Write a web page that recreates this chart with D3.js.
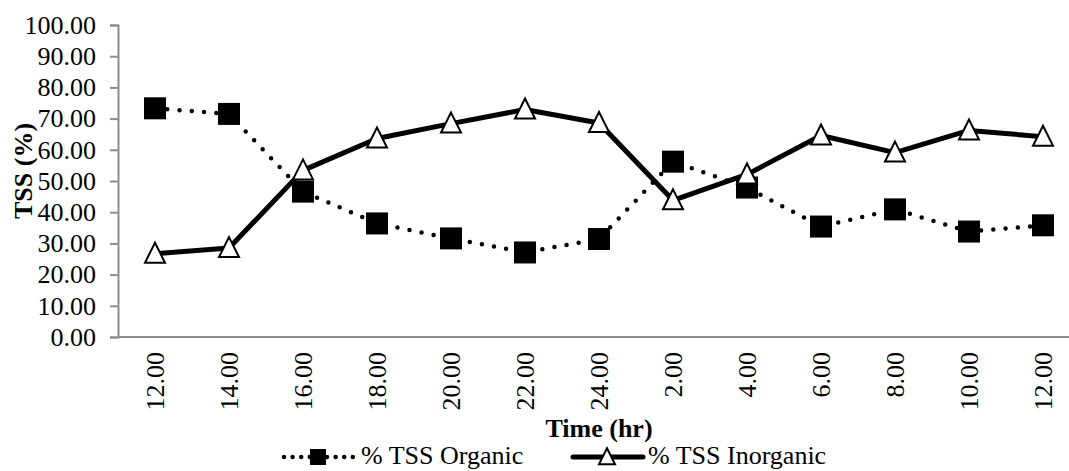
<!DOCTYPE html>
<html>
<head>
<meta charset="utf-8">
<script src="https://cdn.jsdelivr.net/npm/d3@7/dist/d3.min.js"></script>
<style>
  html, body { margin: 0; padding: 0; background: #fff; }
  svg { display: block; }
  text { font-family: "Liberation Serif", "Times New Roman", serif; fill: #000; }
</style>
</head>
<body>
<svg id="chart" width="1069" height="471"></svg>
<script>
// Sampling times (hr) along the x axis
const timeLabels = ["12.00", "14.00", "16.00", "18.00", "20.00", "22.00", "24.00",
                    "2.00", "4.00", "6.00", "8.00", "10.00", "12.00"];
// Share of total suspended solids (%)
const tssOrganic   = [73.3, 71.5, 46.6, 36.4, 31.6, 27.1, 31.4, 56.2, 47.9, 35.4, 40.9, 33.8, 35.8];
const tssInorganic = [26.7, 28.5, 53.4, 63.6, 68.4, 72.9, 68.6, 43.8, 52.1, 64.6, 59.1, 66.2, 64.2];
const yTicks = [0, 10, 20, 30, 40, 50, 60, 70, 80, 90, 100];
const seriesNames = ["% TSS Organic", "% TSS Inorganic"];

const svg = d3.select("#chart");
const plotLeft = 118, plotRight = 1080, plotTop = 25, plotBottom = 337;
const axisColor = "#8c8c8c";
const fontSize = 26;

const x = d3.scaleBand().domain(d3.range(timeLabels.length)).range([plotLeft, plotRight]);
const y = d3.scaleLinear().domain([0, 100]).range([plotBottom, plotTop]);
const cx = i => x(i) + x.bandwidth() / 2;

// y axis
const yAxis = svg.append("g").attr("transform", `translate(${plotLeft},0)`)
  .call(d3.axisLeft(y).tickValues(yTicks).tickFormat(d => d.toFixed(2)).tickSize(8).tickPadding(14));
yAxis.select(".domain").attr("stroke", axisColor).attr("stroke-width", 2);
yAxis.selectAll(".tick line").attr("stroke", axisColor).attr("stroke-width", 2);
yAxis.selectAll(".tick text").attr("font-size", fontSize)
  .attr("font-family", "'Liberation Serif', 'Times New Roman', serif").attr("fill", "#000");

// x axis baseline
svg.append("line").attr("x1", plotLeft).attr("x2", plotRight)
  .attr("y1", y(0)).attr("y2", y(0))
  .attr("stroke", axisColor).attr("stroke-width", 2);

// rotated time labels
svg.append("g").selectAll("text").data(timeLabels).join("text")
  .attr("transform", (d, i) => `translate(${cx(i)},352) rotate(-90)`)
  .attr("text-anchor", "end").attr("dy", "0.35em")
  .attr("font-size", fontSize).text(d => d);

// axis titles
svg.append("text").attr("x", (plotLeft + plotRight) / 2).attr("y", 437)
  .attr("text-anchor", "middle").attr("font-size", fontSize).attr("font-weight", "bold")
  .text("Time (hr)");
svg.append("text").attr("transform", `translate(32,${(plotTop + plotBottom) / 2 - 10}) rotate(-90)`)
  .attr("text-anchor", "middle").attr("font-size", fontSize).attr("font-weight", "bold")
  .text("TSS (%)");

const line = d3.line().x((d, i) => cx(i)).y(d => y(d));
const triPath = s => `M0,${-s * 0.55}L${s * 0.5},${s * 0.45}L${-s * 0.5},${s * 0.45}Z`;

// organic series: dotted line with filled squares
svg.append("path").datum(tssOrganic).attr("d", line)
  .attr("fill", "none").attr("stroke", "#000").attr("stroke-width", 4.5)
  .attr("stroke-linecap", "round").attr("stroke-dasharray", "0 12.3");
svg.append("g").selectAll("rect").data(tssOrganic).join("rect")
  .attr("x", (d, i) => cx(i) - 11).attr("y", d => y(d) - 11)
  .attr("width", 22).attr("height", 22).attr("fill", "#000");

// inorganic series: solid line with open triangles
svg.append("path").datum(tssInorganic).attr("d", line)
  .attr("fill", "none").attr("stroke", "#000").attr("stroke-width", 5)
  .attr("stroke-linejoin", "round");
svg.append("g").selectAll("path").data(tssInorganic).join("path")
  .attr("transform", (d, i) => `translate(${cx(i)},${y(d)})`)
  .attr("d", triPath(20)).attr("fill", "#fff").attr("stroke", "#000").attr("stroke-width", 2);

// legend
const ly = 457, lty = 464;
const lg = svg.append("g");
lg.append("line").attr("x1", 284).attr("x2", 353).attr("y1", ly).attr("y2", ly)
  .attr("stroke", "#000").attr("stroke-width", 4.5).attr("stroke-linecap", "round")
  .attr("stroke-dasharray", "0 8.6");
lg.append("rect").attr("x", 318 - 8).attr("y", ly - 8).attr("width", 16).attr("height", 16).attr("fill", "#000");
lg.append("text").attr("x", 361).attr("y", lty).attr("font-size", fontSize).text(seriesNames[0]);
lg.append("line").attr("x1", 573).attr("x2", 643).attr("y1", ly).attr("y2", ly)
  .attr("stroke", "#000").attr("stroke-width", 5).attr("stroke-linecap", "round");
lg.append("path").attr("transform", `translate(607,${ly})`).attr("d", triPath(16))
  .attr("fill", "#fff").attr("stroke", "#000").attr("stroke-width", 2);
lg.append("text").attr("x", 648).attr("y", lty).attr("font-size", fontSize).text(seriesNames[1]);
</script>
</body>
</html>
